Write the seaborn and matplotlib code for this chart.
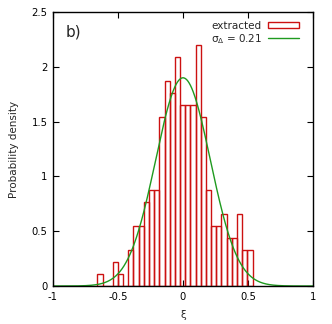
import numpy as np
import pandas as pd
import matplotlib
matplotlib.use("Agg")
import matplotlib.pyplot as plt
import seaborn as sns
from matplotlib.patches import Patch
from matplotlib.lines import Line2D

# ---- data ----
bin_centers = [-0.639, -0.599, -0.560, -0.520, -0.480, -0.440, -0.400, -0.361,
               -0.321, -0.281, -0.241, -0.201, -0.162, -0.122, -0.082, -0.042,
               -0.002, 0.038, 0.077, 0.117, 0.157, 0.197, 0.237, 0.276,
               0.316, 0.356, 0.396, 0.436, 0.475, 0.515]
densities = [0.11, 0.0, 0.0, 0.22, 0.11, 0.0, 0.33, 0.55, 0.55, 0.77,
             0.88, 0.88, 1.54, 1.87, 1.76, 2.09, 1.65, 1.65, 1.65, 2.20,
             1.54, 0.88, 0.55, 0.55, 0.66, 0.44, 0.44, 0.66, 0.33, 0.33]
bin_width = 0.0398
sigma = 0.21
mu = 0.0
x_ticks = [-1, -0.5, 0, 0.5, 1]
x_ticklabels = ["-1", "-0.5", "0", "0.5", "1"]
y_ticks = [0, 0.5, 1, 1.5, 2, 2.5]
y_ticklabels = ["0", "0.5", "1", "1.5", "2", "2.5"]

sns.set_style("ticks")
plt.rcParams["font.family"] = ["DejaVu Sans"]

red = "#cc1111"
green = "#1f9a1f"

fig = plt.figure(figsize=(3.32, 3.24), dpi=100)
ax = fig.add_axes([53 / 332, 38 / 324, 260 / 332, 274 / 324])

df = pd.DataFrame({"xi": bin_centers, "density": densities})
edges = [c - bin_width / 2 for c in bin_centers] + [bin_centers[-1] + bin_width / 2]
sns.histplot(data=df, x="xi", weights="density", bins=edges, stat="count",
             fill=False, element="bars", color=red, linewidth=1.0, ax=ax)

xg = np.linspace(-1, 1, 400)
yg = np.exp(-0.5 * ((xg - mu) / sigma) ** 2) / (sigma * np.sqrt(2 * np.pi))
sns.lineplot(x=xg, y=yg, color=green, linewidth=1.0, ax=ax)

ax.set_xlim(-1, 1)
ax.set_ylim(0, 2.5)
ax.set_xticks(x_ticks)
ax.set_xticklabels(x_ticklabels)
ax.set_yticks(y_ticks)
ax.set_yticklabels(y_ticklabels)
ax.tick_params(direction="in", length=4, width=0.8, labelsize=7.2, pad=4,
               top=True, right=True, colors="black")
for s in ax.spines.values():
    s.set_visible(True)
    s.set_linewidth(1.0)
    s.set_color("black")

ax.set_xlabel("ξ", fontsize=7.5, labelpad=6)
ax.set_ylabel("Probability density", fontsize=7.5, labelpad=9)

ax.text(-0.9, 2.32, "b)", fontsize=11, ha="left", va="center")

handles = [Patch(facecolor="none", edgecolor=red, linewidth=1.0),
           Line2D([0], [0], color=green, linewidth=1.0)]
labels = ["extracted", "σ$_{\\mathrm{Δ}}$ = 0.21"]
ax.legend(handles, labels, loc="upper right", frameon=False, markerfirst=False,
          fontsize=7.5, handlelength=3.0, handleheight=0.5, labelspacing=0.1,
          borderaxespad=0.3, handletextpad=0.6, bbox_to_anchor=(0.975, 0.995))

fig.savefig("out.png", dpi=100)
